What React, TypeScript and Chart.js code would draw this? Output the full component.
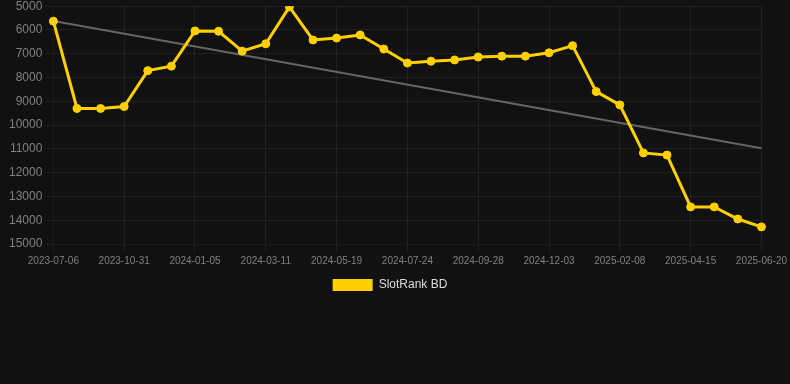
import React, { useEffect, useRef } from "react";
import { Chart, registerables } from "chart.js";

Chart.register(...registerables);

const dates = [
  "2023-07-06", "2023-08-14", "2023-09-22", "2023-10-31", "2023-11-22", "2023-12-14",
  "2024-01-05", "2024-01-27", "2024-02-18", "2024-03-11", "2024-04-03", "2024-04-26",
  "2024-05-19", "2024-06-13", "2024-06-29", "2024-07-24", "2024-08-14", "2024-09-06",
  "2024-09-28", "2024-10-20", "2024-11-11", "2024-12-03", "2024-12-26", "2025-01-17",
  "2025-02-08", "2025-03-01", "2025-03-23", "2025-04-15", "2025-05-07", "2025-05-29",
  "2025-06-20",
];

const ranks = [
  5630, 9300, 9300, 9220, 7710, 7520,
  6040, 6055, 6890, 6580, 5030, 6420,
  6340, 6210, 6800, 7390, 7310, 7260,
  7140, 7100, 7100, 6960, 6660, 8590,
  9150, 11170, 11260, 13440, 13440, 13950,
  14280,
];

const trendEnds = [5620, 10970];

const yTicks = [5000, 6000, 7000, 8000, 9000, 10000, 11000, 12000, 13000, 14000, 15000];

const FONT = "Arial, 'Liberation Sans', sans-serif";
const GRID = "rgba(255,255,255,0.06)";

const legendShift = {
  id: "legendShift",
  afterLayout(chart: any) {
    const lg = chart.legend;
    if (lg) {
      lg.left -= 8;
      lg.right -= 8;
      lg.top -= 1;
      lg.bottom -= 1;
    }
  },
};

export default function App() {
  const ref = useRef<HTMLCanvasElement | null>(null);

  useEffect(() => {
    document.body.style.margin = "0";
    document.body.style.background = "#111111";
    const trend: (number | null)[] = dates.map((_, i) =>
      i === 0 ? trendEnds[0] : i === dates.length - 1 ? trendEnds[1] : null
    );
    const chart = new Chart(ref.current!, {
      type: "line",
      plugins: [legendShift],
      data: {
        labels: dates,
        datasets: [
          {
            label: "SlotRank BD",
            data: ranks,
            borderColor: "#FFD000",
            backgroundColor: "#FFD000",
            borderWidth: 3,
            pointRadius: 4,
            pointBorderWidth: 1,
            pointHoverRadius: 4,
            pointBackgroundColor: "#FFD000",
            pointBorderColor: "#FFD000",
            tension: 0,
          },
          {
            label: "trend",
            data: trend,
            borderColor: "#666666",
            borderWidth: 2,
            pointRadius: 0,
            spanGaps: true,
            tension: 0,
          },
        ],
      },
      options: {
        animation: false,
        responsive: false,
        maintainAspectRatio: false,
        layout: { padding: { left: 6, right: 0, top: 0, bottom: 0 } },
        scales: {
          x: {
            ticks: {
              color: "#808080",
              font: { family: FONT, size: 10 },
              autoSkip: false,
              maxRotation: 0,
              callback: (_v: any, i: number) => (i % 3 === 0 ? dates[i] : ""),
            },
            grid: {
              color: (ctx: any) => (ctx.index % 3 === 0 ? GRID : "rgba(0,0,0,0)"),
            },
          },
          y: {
            reverse: true,
            min: 5000,
            max: 15000,
            afterBuildTicks: (axis: any) => {
              axis.ticks = yTicks.map((v) => ({ value: v }));
            },
            ticks: {
              color: "#808080",
              font: { family: FONT, size: 12 },
              callback: (v: any) => String(v),
            },
            grid: { color: GRID },
          },
        },
        plugins: {
          legend: {
            position: "bottom",
            labels: {
              color: "#dddddd",
              font: { family: FONT, size: 12 },
              boxWidth: 40,
              boxHeight: 12,
              filter: (item: any) => item.text !== "trend",
              generateLabels: (c: any) =>
                Chart.defaults.plugins.legend.labels
                  .generateLabels(c)
                  .map((it: any) => ({ ...it, lineWidth: 0 })),
            },
          },
          tooltip: { enabled: false },
        },
      },
    });
    return () => chart.destroy();
  }, []);

  return (
    <div style={{ width: 790, height: 384, background: "#111111", overflow: "hidden" }}>
      <canvas
        ref={ref}
        width={790}
        height={306}
        style={{ display: "block", marginTop: -4 }}
      />
    </div>
  );
}
